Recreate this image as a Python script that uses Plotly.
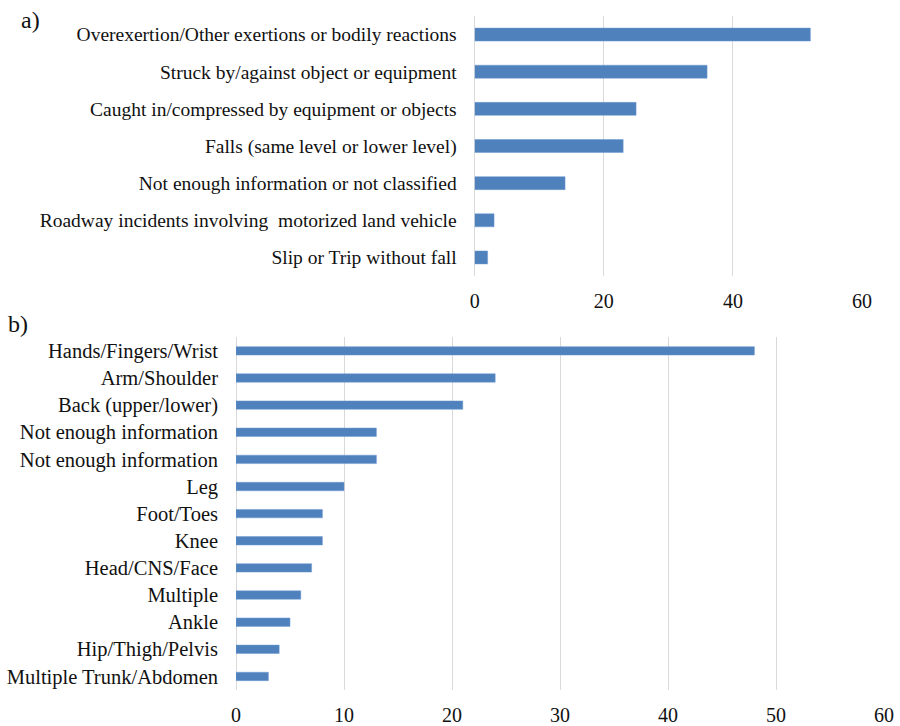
import plotly.graph_objects as go

# Panel a: event / exposure
a_labels = [
    "Overexertion/Other exertions or bodily reactions",
    "Struck by/against object or equipment",
    "Caught in/compressed by equipment or objects",
    "Falls (same level or lower level)",
    "Not enough information or not classified",
    "Roadway incidents involving  motorized land vehicle",
    "Slip or Trip without fall",
]
a_values = [52, 36, 25, 23, 14, 3, 2]
a_ticks = [0, 20, 40, 60]

# Panel b: body part
b_labels = [
    "Hands/Fingers/Wrist",
    "Arm/Shoulder",
    "Back (upper/lower)",
    "Not enough information",
    "Not enough information",
    "Leg",
    "Foot/Toes",
    "Knee",
    "Head/CNS/Face",
    "Multiple",
    "Ankle",
    "Hip/Thigh/Pelvis",
    "Multiple Trunk/Abdomen",
]
b_values = [48, 24, 21, 13, 13, 10, 8, 8, 7, 6, 5, 4, 3]
b_ticks = [0, 10, 20, 30, 40, 50, 60]

BAR = "#4f81bd"
GRID = "#d9d9d9"
FONT = "Liberation Serif, Times New Roman, serif"
W, H = 900, 726

a_pos = list(range(len(a_labels)))
b_pos = list(range(len(b_labels)))

fig = go.Figure()
fig.add_trace(go.Bar(x=a_values, y=a_pos, orientation="h", marker=dict(color=BAR, line=dict(color="#6f9ad0", width=0.5)),
                     xaxis="x", yaxis="y", width=0.35))
fig.add_trace(go.Bar(x=b_values, y=b_pos, orientation="h", marker=dict(color=BAR, line=dict(color="#6f9ad0", width=0.5)),
                     xaxis="x2", yaxis="y2", width=0.31))

def xd(px0, px1):
    return [px0 / W, px1 / W]

def yd(top, bottom):
    return [1 - bottom / H, 1 - top / H]

def f(size):
    return dict(family=FONT, size=size, color="#111111")

fig.update_layout(
    width=W, height=H,
    margin=dict(l=0, r=0, t=0, b=0),
    paper_bgcolor="white", plot_bgcolor="white",
    showlegend=False,
    font=f(18),
    xaxis=dict(domain=xd(474.7, 862), range=[0, 60], tickvals=a_ticks, showgrid=True, gridcolor=GRID,
               zeroline=True, zerolinecolor=GRID, zerolinewidth=1, showline=False, ticks="",
               tickfont=f(20), anchor="y", ticklabelstandoff=11, automargin=False),
    yaxis=dict(domain=yd(16, 276), range=[len(a_labels) - 0.5, -0.5], tickvals=a_pos, ticktext=a_labels,
               showgrid=False, zeroline=False, ticks="", tickfont=f(19.5), anchor="x",
               ticklabelstandoff=17, automargin=False),
    xaxis2=dict(domain=xd(236, 884), range=[0, 60], tickvals=b_ticks, showgrid=True, gridcolor=GRID,
                zeroline=True, zerolinecolor=GRID, zerolinewidth=1, showline=False, ticks="",
                tickfont=f(20), anchor="y2", ticklabelstandoff=11, automargin=False),
    yaxis2=dict(domain=yd(337.3, 690), range=[len(b_labels) - 0.5, -0.5], tickvals=b_pos, ticktext=b_labels,
                showgrid=False, zeroline=False, ticks="", tickfont=f(20.5), anchor="x2",
                ticklabelstandoff=17, automargin=False),
    annotations=[
        dict(text="a)", x=19 / W, y=1 - 20 / H, xref="paper", yref="paper", xanchor="left", yanchor="middle",
             showarrow=False, font=f(24)),
        dict(text="b)", x=6 / W, y=1 - 324 / H, xref="paper", yref="paper", xanchor="left", yanchor="middle",
             showarrow=False, font=f(24)),
    ],
)

fig.write_html("out.html")
